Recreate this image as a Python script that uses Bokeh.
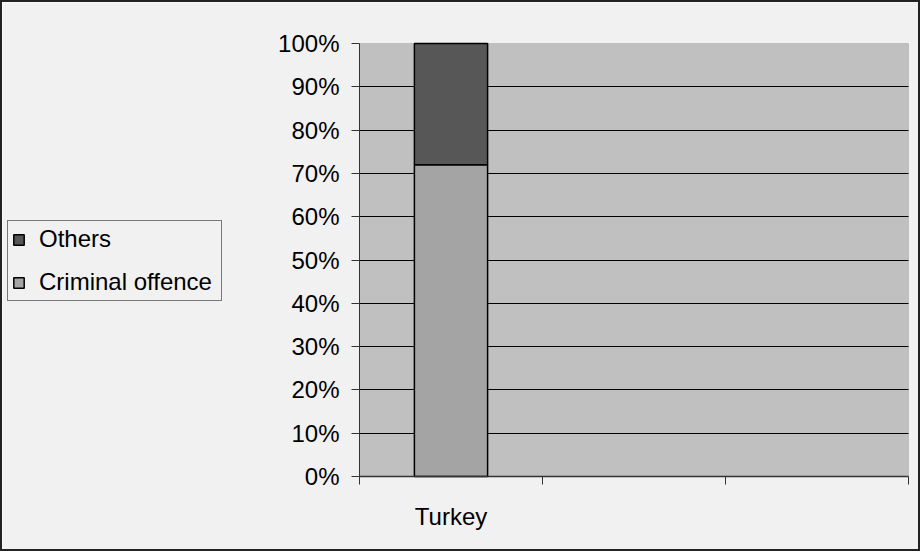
from bokeh.plotting import figure
from bokeh.models import (FixedTicker, NumeralTickFormatter, Legend, LegendItem,
                          Range1d, ColumnDataSource, BoxAnnotation, Grid)
from bokeh.embed import file_html
from bokeh.resources import INLINE

# Category slots on the x axis (only the first one holds data)
categories = ["Turkey", "", ""]
# Share of each reason, per category (fractions of 100%)
criminal_offence = [0.72, None, None]
others = [0.28, None, None]
# Percent ticks on the value axis
y_ticks = [0.0, 0.1, 0.2, 0.3, 0.4, 0.5, 0.6, 0.7, 0.8, 0.9, 1.0]

FONT = "Liberation Sans"
FSIZE = "24px"
BG = "#F1F1F1"
AXIS = "#333333"

n = len(categories)
xs, labels, crim, oth = [], [], [], []
for i, c in enumerate(categories):
    if c and criminal_offence[i] is not None:
        xs.append(i + 0.5)
        labels.append(c)
        crim.append(criminal_offence[i])
        oth.append(others[i])
src = ColumnDataSource(dict(x=xs, crim=crim, top=[a + b for a, b in zip(crim, oth)]))

# The frame covers the whole canvas; the plotting area proper is x in [0, n],
# y in [0, 1], inset by these pixel margins, and both axes are pinned to it.
W, H = 920, 551
M_LEFT, M_RIGHT, M_TOP, M_BOTTOM = 357, 14, 41, 77
px_x = (W - M_LEFT - M_RIGHT) / n
px_y = H - M_TOP - M_BOTTOM
p = figure(width=W, height=H, output_backend="svg", toolbar_location=None,
           x_range=Range1d(-M_LEFT / px_x, n + M_RIGHT / px_x),
           y_range=Range1d(-M_BOTTOM / px_y, 1 + M_TOP / px_y),
           min_border_left=0, min_border_right=0, min_border_top=0,
           min_border_bottom=0)
p.styles = {"border": "2px solid #222222"}
p.background_fill_color = BG
p.border_fill_color = BG
p.outline_line_color = None

# grey plot area
p.add_layout(BoxAnnotation(left=0, right=n, bottom=0, top=1, level="image",
                           fill_color="#C0C0C0", fill_alpha=1,
                           line_color="#808080", line_width=1))

r_crim = p.vbar(x="x", width=0.4, bottom=0, top="crim", source=src,
                fill_color="#A4A4A4", line_color="black", line_width=1.5)
r_oth = p.vbar(x="x", width=0.4, bottom="crim", top="top", source=src,
               fill_color="#575757", line_color="black", line_width=1.5)

# value axis, pinned to the left edge of the plotting area
p.yaxis.fixed_location = 0
p.yaxis.bounds = (0, 1)
p.yaxis.ticker = FixedTicker(ticks=y_ticks, minor_ticks=[])
p.yaxis.formatter = NumeralTickFormatter(format="0%")
p.yaxis.major_tick_out = 8
p.yaxis.major_tick_in = 0
p.yaxis.minor_tick_line_color = None
p.yaxis.axis_line_color = AXIS
p.yaxis.major_tick_line_color = AXIS
p.yaxis.major_label_text_font = FONT
p.yaxis.major_label_text_font_size = FSIZE
p.yaxis.major_label_text_color = "black"
p.yaxis.major_label_standoff = 12

# category axis: tick marks between slots, label centred in its slot
p.xaxis.fixed_location = 0
p.xaxis.bounds = (0, n)
p.xaxis.ticker = FixedTicker(ticks=xs, minor_ticks=[float(i) for i in range(n + 1)])
p.xaxis.major_label_overrides = {x: l for x, l in zip(xs, labels)}
p.xaxis.major_tick_line_color = None
p.xaxis.major_tick_out = 0
p.xaxis.major_tick_in = 0
p.xaxis.minor_tick_out = 8
p.xaxis.minor_tick_in = 0
p.xaxis.minor_tick_line_color = AXIS
p.xaxis.axis_line_color = AXIS
p.xaxis.axis_line_width = 1.5
p.xaxis.major_label_text_font = FONT
p.xaxis.major_label_text_font_size = FSIZE
p.xaxis.major_label_text_color = "black"
p.xaxis.major_label_standoff = 18

p.xgrid.visible = False
if "cross_bounds" in Grid.properties():
    p.ygrid.ticker = FixedTicker(ticks=y_ticks[1:-1], minor_ticks=[])
    p.ygrid.cross_bounds = (0, n)
    p.ygrid.grid_line_color = "black"
    p.ygrid.grid_line_width = 1
else:
    p.ygrid.visible = False
    p.segment(x0=0, x1=n, y0=y_ticks[1:-1], y1=y_ticks[1:-1], level="underlay",
              line_color="black", line_width=1)

legend = Legend(items=[LegendItem(label="Others", renderers=[r_oth]),
                       LegendItem(label="Criminal offence", renderers=[r_crim])],
                location=(5, 252), orientation="vertical",
                border_line_color="black", border_line_width=1,
                background_fill_color=BG, background_fill_alpha=1,
                label_text_font=FONT, label_text_font_size=FSIZE,
                label_text_color="black", label_width=178,
                glyph_width=13, glyph_height=13, label_standoff=14,
                spacing=15, padding=4, margin=0)
p.add_layout(legend)

open("out.html", "w").write(file_html(p, INLINE))
